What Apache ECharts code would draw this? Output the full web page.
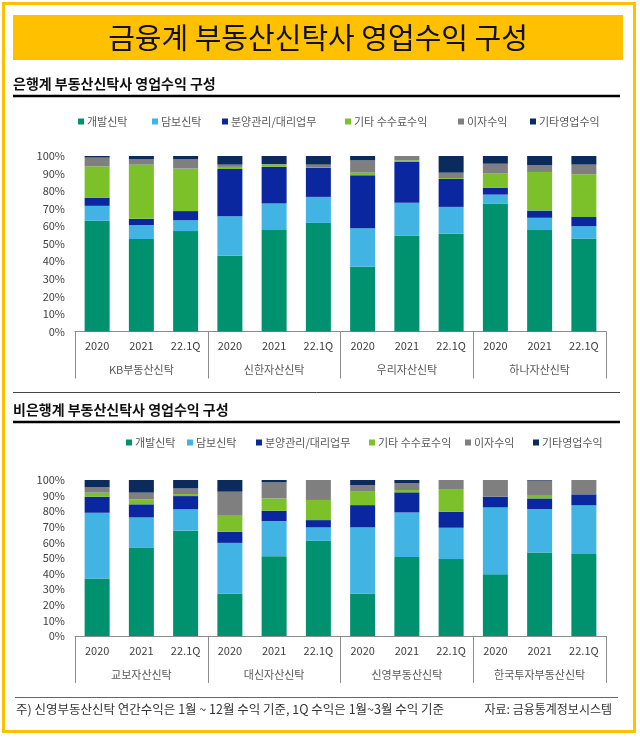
<!DOCTYPE html>
<html><head><meta charset="utf-8">
<script src="https://cdn.jsdelivr.net/npm/echarts@6/dist/echarts.min.js"></script>
<style>html,body{margin:0;padding:0;background:#fff}#c{width:640px;height:746px}</style>
</head><body><div id="c"></div>
<script>
const years = ['2020','2021','22.1Q','2020','2021','22.1Q','2020','2021','22.1Q','2020','2021','22.1Q'];
const bankGroups = ['KB부동산신탁','신한자산신탁','우리자산신탁','하나자산신탁'];
const nonBankGroups = ['교보자산신탁','대신자산신탁','신영부동산신탁','한국투자부동산신탁'];
const seriesNames = ['개발신탁','담보신탁','분양관리/대리업무','기타 수수료수익','이자수익','기타영업수익'];
const yTicks = [0,10,20,30,40,50,60,70,80,90,100];

// 은행계 (%)
const bankDev    = [63.1, 52.7, 57.2, 43.2, 57.8, 61.9, 36.9, 54.7, 55.9, 72.9, 57.8, 53.0];
const bankColl   = [8.5, 7.9, 6.2, 22.5, 15.1, 14.8, 22.0, 18.6, 15.1, 5.1, 7.0, 7.0];
const bankAgency = [4.5, 3.6, 5.2, 26.9, 20.9, 16.7, 30.1, 23.3, 15.9, 3.8, 4.1, 5.3];
const bankFee    = [18.0, 30.9, 24.2, 1.2, 1.3, 0.2, 1.5, 0.9, 0.5, 8.2, 22.0, 24.3];
const bankInt    = [5.0, 3.0, 5.3, 1.3, 0.3, 1.5, 7.0, 2.5, 3.1, 5.6, 3.8, 5.5];
const bankOther  = [0.9, 1.9, 1.9, 4.9, 4.6, 4.9, 2.5, 0, 9.5, 4.4, 5.3, 4.9];

// 비은행계 (%)
const nbDev    = [36.8, 56.5, 67.5, 27.2, 51.2, 61.0, 27.2, 50.7, 49.3, 39.6, 53.5, 52.5];
const nbColl   = [42.2, 19.5, 13.7, 32.5, 22.5, 8.6, 42.4, 28.5, 20.1, 42.8, 27.9, 31.4];
const nbAgency = [10.3, 8.4, 8.5, 7.1, 6.6, 4.7, 14.3, 12.9, 10.3, 6.9, 6.8, 6.9];
const nbFee    = [2.6, 3.2, 1.3, 10.3, 7.9, 12.9, 9.0, 1.5, 14.5, 0, 1.7, 0];
const nbInt    = [3.4, 4.3, 3.6, 15.4, 10.3, 12.8, 3.9, 4.3, 5.8, 10.7, 9.7, 9.2];
const nbOther  = [4.7, 8.1, 5.4, 7.5, 1.5, 0, 3.2, 2.1, 0, 0, 0.4, 0];

const colors = ['#00916E','#41B4E4','#0A27A0','#7DC12A','#7F7F7F','#0B2B5C'];
const bankData = [bankDev, bankColl, bankAgency, bankFee, bankInt, bankOther];
const nbData = [nbDev, nbColl, nbAgency, nbFee, nbInt, nbOther];

const FONT = '"Noto Sans CJK KR", "Noto Sans", sans-serif';
const YEL = '#FFC000';

const chart = echarts.init(document.getElementById('c'), null, {renderer:'canvas'});

function yAxis(gi){
  return {type:'value', gridIndex:gi, min:0, max:100, interval:10,
    axisLine:{show:false}, axisTick:{show:false}, splitLine:{show:false},
    axisLabel:{formatter:'{value}%', fontSize:11, color:'#404040', margin:10, fontFamily:FONT}};
}
function xYear(gi){
  return {type:'category', gridIndex:gi, data:years, position:'bottom',
    axisLine:{show:true, lineStyle:{color:'#8c8c8c', width:1}}, axisTick:{show:false},
    axisLabel:{fontSize:11, color:'#404040', margin:9, fontFamily:FONT, interval:0}};
}
function xGroup(gi, groups){
  return {type:'category', gridIndex:gi, data:groups, position:'bottom',
    axisLine:{show:false},
    axisTick:{show:true, length:47, lineStyle:{color:'#8c8c8c', width:1}},
    axisLabel:{fontSize:11, color:'#595959', margin:33, fontFamily:FONT, interval:0}};
}

const series = [];
[bankData, nbData].forEach((dset, gi) => {
  dset.forEach((arr, si) => {
    series.push({name:seriesNames[si], type:'bar', stack:'s'+gi,
      xAxisIndex:gi*2, yAxisIndex:gi, barWidth:25, data:arr,
      itemStyle:{color:colors[si]}, emphasis:{disabled:true}});
  });
});

const legendTop = [78, 152, 222, 345, 458, 530];
const legendBottom = [126, 187, 256, 369, 465, 533];
const legends = [];
seriesNames.forEach((n, i) => {
  [[legendTop[i], 116], [legendBottom[i], 437]].forEach(([l, t]) => {
    legends.push({data:[n], left:l, top:t, icon:'rect', itemWidth:6, itemHeight:6,
      itemGap:0, padding:0, selectedMode:false,
      textStyle:{fontSize:11, color:'#595959', fontFamily:FONT, padding:[0,0,0,-2]}});
  });
});

const option = {
  animation:false,
  backgroundColor:'#ffffff',
  legend: legends,
  grid:[
    {left:75, top:156, width:531, height:175.5, containLabel:false},
    {left:75, top:480, width:531, height:156, containLabel:false}
  ],
  xAxis:[xYear(0), xGroup(0, bankGroups), xYear(1), xGroup(1, nonBankGroups)],
  yAxis:[yAxis(0), yAxis(1)],
  series: series,
  graphic:[
    {type:'rect', shape:{x:3.5, y:3.5, width:631, height:728}, style:{fill:null, stroke:YEL, lineWidth:3}, silent:true},
    {type:'rect', shape:{x:13, y:15, width:610, height:45}, style:{fill:YEL}, silent:true},
    {type:'text', x:318, y:38, style:{text:'금융계 부동산신탁사 영업수익 구성', font:'29px '+FONT, fill:'#111', align:'center', verticalAlign:'middle'}},
    {type:'text', x:13, y:84, style:{text:'은행계 부동산신탁사 영업수익 구성', font:'bold 14px '+FONT, fill:'#111', align:'left', verticalAlign:'middle'}},
    {type:'line', shape:{x1:13, y1:96, x2:620, y2:96}, style:{stroke:'#000', lineWidth:2.5}},
    {type:'line', shape:{x1:13, y1:392.5, x2:620, y2:392.5}, style:{stroke:'#444', lineWidth:1}},
    {type:'text', x:13, y:410, style:{text:'비은행계 부동산신탁사 영업수익 구성', font:'bold 14px '+FONT, fill:'#111', align:'left', verticalAlign:'middle'}},
    {type:'line', shape:{x1:13, y1:422, x2:620, y2:422}, style:{stroke:'#000', lineWidth:2.5}},
    {type:'line', shape:{x1:15, y1:697.5, x2:618, y2:697.5}, style:{stroke:'#666', lineWidth:1}},
    {type:'text', x:16, y:709, style:{text:'주) 신영부동산신탁 연간수익은 1월 ~ 12월 수익 기준, 1Q 수익은 1월~3월 수익 기준', font:'12.5px '+FONT, fill:'#333', align:'left', verticalAlign:'middle'}},
    {type:'text', x:612, y:709, style:{text:'자료: 금융통계정보시스템', font:'12px '+FONT, fill:'#333', align:'right', verticalAlign:'middle'}}
  ]
};
chart.setOption(option);
</script>
</body></html>
